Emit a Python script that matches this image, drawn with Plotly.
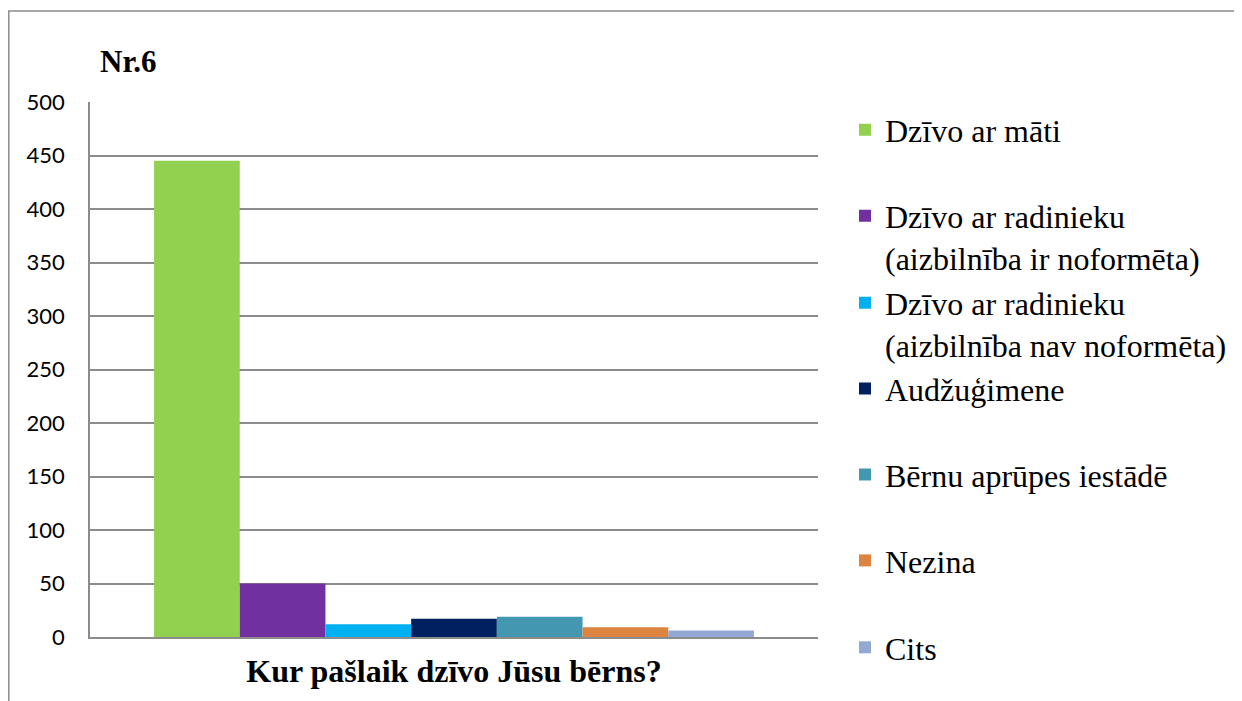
import plotly.graph_objects as go

category = ["Kur pašlaik dzīvo Jūsu bērns?"]
series_names = [
    "Dzīvo ar māti",
    "Dzīvo ar radinieku<br>(aizbilnība ir noformēta)",
    "Dzīvo ar radinieku<br>(aizbilnība nav noformēta)",
    "Audžuģimene",
    "Bērnu aprūpes iestādē",
    "Nezina",
    "Cits",
]
series_values = [445, 50, 12, 17, 19, 9, 6]
series_colors = ["#92D050", "#7030A0", "#00B0F0", "#002060", "#4397B0", "#DD8540", "#93A9D3"]
y_ticks = [0, 50, 100, 150, 200, 250, 300, 350, 400, 450, 500]

# the page has an 8px body margin, so figure coords = page coords - 8
OFF = 8
W, H = 1242 - OFF, 701 - OFF
L, R, T, B = 90 - OFF, 818 - OFF, 101.5 - OFF, 637 - OFF

SERIF = "Liberation Serif, Times New Roman, serif"


def px_x(p):
    # page pixel -> paper x
    return (p - OFF - L) / (R - L)


def px_y(p):
    # page pixel -> paper y
    return (B - (p - OFF)) / (B - T)


# centre of each legend symbol (page pixel y)
legend_rows = [131, 217, 304, 390, 476, 562, 649]

fig = go.Figure()
for i, (name, val, col) in enumerate(zip(series_names, series_values, series_colors)):
    lg = "legend" if i == 0 else f"legend{i + 1}"
    fig.add_trace(go.Bar(x=category, y=[val], name=name, marker_color=col,
                         marker_line_width=0, legend=lg))

legend_font = dict(family=SERIF, size=32, color="#000000")
layout_legends = {}
for i, row in enumerate(legend_rows):
    key = "legend" if i == 0 else f"legend{i + 1}"
    layout_legends[key] = dict(
        x=px_x(845), xanchor="left",
        y=px_y(row - 29), yanchor="top",
        font=legend_font, bgcolor="rgba(0,0,0,0)",
        valign="top", itemclick=False, itemdoubleclick=False,
    )

fig.update_layout(
    width=W, height=H,
    margin=dict(l=L, r=W - R, t=T, b=H - B, autoexpand=False),
    paper_bgcolor="white", plot_bgcolor="white",
    barmode="group", bargap=0.176, bargroupgap=0,
    showlegend=True,
    **layout_legends,
)

fig.update_yaxes(range=[0, 500], tickvals=y_ticks,
                 tickfont=dict(family="Lato", size=22, color="#000000"),
                 showgrid=True, gridcolor="#8C8C8C", gridwidth=1.5,
                 showline=True, linecolor="#8C8C8C", linewidth=1.5,
                 zeroline=False, ticks="", ticklabelstandoff=19)
fig.update_xaxes(showticklabels=False, showline=True, linecolor="#8C8C8C", linewidth=2,
                 title=dict(text="<b>Kur pašlaik dzīvo Jūsu bērns?</b>",
                            font=dict(family=SERIF, size=32, color="#000000"),
                            standoff=22))

# chart title
fig.add_annotation(text="<b>Nr.6</b>", xref="paper", yref="paper",
                   x=px_x(98), y=px_y(61), xanchor="left", yanchor="middle",
                   showarrow=False, font=dict(family=SERIF, size=31, color="#000000"))

# outer chart frame
fig.add_shape(type="rect", xref="paper", yref="paper",
              x0=px_x(8.8), x1=px_x(1240), y0=px_y(740), y1=px_y(10.5),
              line=dict(color="#8C8C8C", width=1.5), fillcolor="rgba(0,0,0,0)", layer="below")

fig.write_html("out.html")
